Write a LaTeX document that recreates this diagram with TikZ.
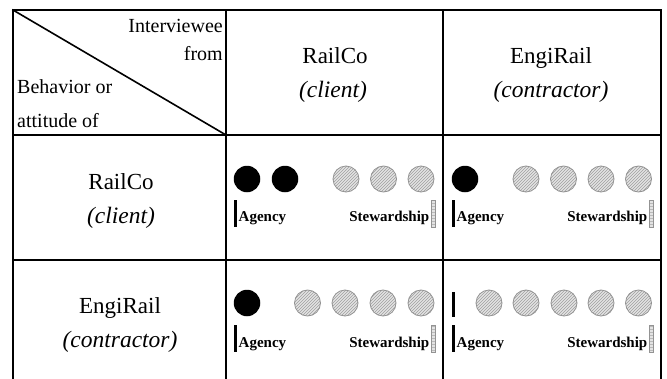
\documentclass[tikz,border=0pt]{standalone}
\usepackage{fontspec}
\setmainfont{Liberation Serif}
\usetikzlibrary{patterns}
\tikzset{
  grid/.style={line width=1.6pt, line cap=rect},
  head/.style={inner sep=0pt, font=\fontsize{20}{24}\selectfont},
  party/.style={inner sep=0pt, font=\fontsize{23}{27}\selectfont},
  role/.style={inner sep=0pt, font=\fontsize{23.5}{28}\selectfont\itshape},
  scale label/.style={inner sep=0pt, font=\fontsize{15}{18}\selectfont\bfseries},
  agent/.style={circle, fill=black, minimum size=26.5pt, inner sep=0pt},
  steward/.style={circle, draw=gray!85, line width=0.8pt, minimum size=26pt, inner sep=0pt,
    preaction={fill=gray!22}, pattern=north east lines, pattern color=gray!75},
  agencybar/.style={fill=black, minimum width=3pt, minimum height=27pt, inner sep=0pt},
  stewardbar/.style={draw=gray!85, line width=0.6pt, minimum width=4pt, minimum height=27pt, inner sep=0pt,
    preaction={fill=gray!22}, pattern=horizontal lines, pattern color=gray!55},
}
\begin{document}
\begin{tikzpicture}[x=1pt, y=-1pt]
\useasboundingbox (0,0) rectangle (667,378);

% table rules
\draw[grid] (13,10) -- (661,10);
\draw[grid] (13,135) -- (661,135);
\draw[grid] (13,260) -- (661,260);
\draw[grid] (13,10) -- (13,378);
\draw[grid] (226,10) -- (226,378);
\draw[grid] (443,10) -- (443,378);
\draw[grid] (661,10) -- (661,378);
\draw[grid] (13,10) -- (226,135);

% corner cell
\node[head, anchor=base east] (iv1) at (223,32) {Interviewee};
\node[head, anchor=base east] (iv2) at (223,60) {from};
\node[head, anchor=base west] (bh1) at (17,93) {Behavior or};
\node[head, anchor=base west] (bh2) at (17,127) {attitude of};

% column headers
\node[party, anchor=base] (c1a) at (335,63) {RailCo};
\node[role, anchor=base] (c1b) at (333,97) {(client)};
\node[party, anchor=base] (c2a) at (551,63) {EngiRail};
\node[role, anchor=base] (c2b) at (551,97) {(contractor)};

% row headers
\node[party, anchor=base] (r1a) at (121,189) {RailCo};
\node[role, anchor=base] (r1b) at (121,223) {(client)};
\node[party, anchor=base] (r2a) at (120,313) {EngiRail};
\node[role, anchor=base] (r2b) at (120,347) {(contractor)};

% RailCo about RailCo
\node[agent] (a11a) at (247,179) {};
\node[agent] (a11b) at (285,179) {};
\node[steward] (s11a) at (346,179) {};
\node[steward] (s11b) at (383.5,179) {};
\node[steward] (s11c) at (421,179) {};
\node[agencybar] (ab11) at (235,213.5) {};
\node[scale label, anchor=base west] (al11) at (238.5,221) {Agency};
\node[stewardbar] (sb11) at (433,213.5) {};
\node[scale label, anchor=base east] (sl11) at (429.5,221) {Stewardship};

% EngiRail about RailCo
\node[agent] (a12a) at (465,179) {};
\node[steward] (s12a) at (526,179) {};
\node[steward] (s12b) at (563.5,179) {};
\node[steward] (s12c) at (601,179) {};
\node[steward] (s12d) at (638.5,179) {};
\node[agencybar] (ab12) at (453,213.5) {};
\node[scale label, anchor=base west] (al12) at (456.5,221) {Agency};
\node[stewardbar] (sb12) at (651,213.5) {};
\node[scale label, anchor=base east] (sl12) at (647.5,221) {Stewardship};

% RailCo about EngiRail
\node[agent] (a21a) at (247,303) {};
\node[steward] (s21a) at (307.5,303) {};
\node[steward] (s21b) at (345,303) {};
\node[steward] (s21c) at (383,303) {};
\node[steward] (s21d) at (421,303) {};
\node[agencybar] (ab21) at (235,338.5) {};
\node[scale label, anchor=base west] (al21) at (238.5,347) {Agency};
\node[stewardbar] (sb21) at (433,338.5) {};
\node[scale label, anchor=base east] (sl21) at (429.5,347) {Stewardship};

% EngiRail about EngiRail
\node[agencybar, minimum height=25pt] (m22) at (453,304.5) {};
\node[steward] (s22a) at (489,303) {};
\node[steward] (s22b) at (526,303) {};
\node[steward] (s22c) at (564,303) {};
\node[steward] (s22d) at (601,303) {};
\node[steward] (s22e) at (638.5,303) {};
\node[agencybar] (ab22) at (453,338.5) {};
\node[scale label, anchor=base west] (al22) at (456.5,347) {Agency};
\node[stewardbar] (sb22) at (651,338.5) {};
\node[scale label, anchor=base east] (sl22) at (647.5,347) {Stewardship};
\end{tikzpicture}
\end{document}
